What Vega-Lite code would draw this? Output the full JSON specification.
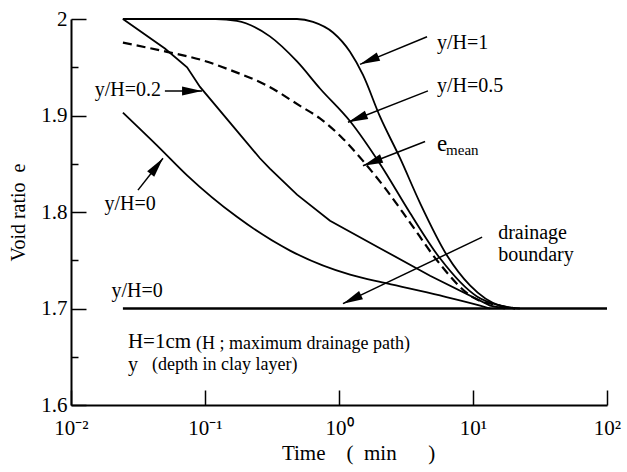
{
  "$schema": "https://vega.github.io/schema/vega-lite/v6.json",
  "width": 536,
  "height": 386,
  "autosize": "none",
  "padding": {"left": 71, "top": 19, "right": 20, "bottom": 67},
  "background": "white",
  "config": {
    "font": "Liberation Serif",
    "view": {"stroke": null},
    "axis": {
      "grid": false,
      "domainColor": "black",
      "tickColor": "black",
      "labelColor": "black",
      "titleColor": "black",
      "labelFont": "Liberation Serif",
      "titleFont": "Liberation Serif",
      "titleFontWeight": "normal"
    },
    "text": {"font": "Liberation Serif", "color": "black"}
  },
  "datasets": {
    "curves": [
      {"series": "y/H=1", "t": 0.0244, "e": 2.0},
      {"series": "y/H=1", "t": 0.486, "e": 2.0},
      {"series": "y/H=1", "t": 0.64, "e": 1.997},
      {"series": "y/H=1", "t": 0.902, "e": 1.986},
      {"series": "y/H=1", "t": 1.208, "e": 1.966},
      {"series": "y/H=1", "t": 1.51, "e": 1.942},
      {"series": "y/H=1", "t": 2.02, "e": 1.899},
      {"series": "y/H=1", "t": 2.85, "e": 1.856},
      {"series": "y/H=1", "t": 4.02, "e": 1.8095},
      {"series": "y/H=1", "t": 6.4, "e": 1.755},
      {"series": "y/H=1", "t": 9.5, "e": 1.724},
      {"series": "y/H=1", "t": 15.9, "e": 1.703},
      {"series": "y/H=1", "t": 22.4, "e": 1.7},
      {"series": "y/H=0.5", "t": 0.0244, "e": 2.0},
      {"series": "y/H=0.5", "t": 0.12, "e": 2.0},
      {"series": "y/H=0.5", "t": 0.173, "e": 1.998},
      {"series": "y/H=0.5", "t": 0.305, "e": 1.982},
      {"series": "y/H=0.5", "t": 0.486, "e": 1.956},
      {"series": "y/H=0.5", "t": 0.721, "e": 1.928},
      {"series": "y/H=0.5", "t": 1.21, "e": 1.894},
      {"series": "y/H=0.5", "t": 2.02, "e": 1.85},
      {"series": "y/H=0.5", "t": 3.39, "e": 1.799},
      {"series": "y/H=0.5", "t": 5.67, "e": 1.752},
      {"series": "y/H=0.5", "t": 10.7, "e": 1.7125},
      {"series": "y/H=0.5", "t": 15.9, "e": 1.703},
      {"series": "y/H=0.5", "t": 20.6, "e": 1.7},
      {"series": "y/H=0.2", "t": 0.0244, "e": 2.0},
      {"series": "y/H=0.2", "t": 0.0502, "e": 1.9694},
      {"series": "y/H=0.2", "t": 0.0735, "e": 1.95},
      {"series": "y/H=0.2", "t": 0.0918, "e": 1.9296},
      {"series": "y/H=0.2", "t": 0.173, "e": 1.884},
      {"series": "y/H=0.2", "t": 0.257, "e": 1.8557},
      {"series": "y/H=0.2", "t": 0.305, "e": 1.845},
      {"series": "y/H=0.2", "t": 0.486, "e": 1.818},
      {"series": "y/H=0.2", "t": 0.857, "e": 1.791},
      {"series": "y/H=0.2", "t": 2.02, "e": 1.7625},
      {"series": "y/H=0.2", "t": 4.78, "e": 1.734},
      {"series": "y/H=0.2", "t": 13.4, "e": 1.703},
      {"series": "y/H=0.2", "t": 17.3, "e": 1.7},
      {"series": "y/H=0", "t": 0.0244, "e": 1.903},
      {"series": "y/H=0", "t": 0.0461, "e": 1.866},
      {"series": "y/H=0", "t": 0.0735, "e": 1.838},
      {"series": "y/H=0", "t": 0.173, "e": 1.795},
      {"series": "y/H=0", "t": 0.431, "e": 1.76},
      {"series": "y/H=0", "t": 1.21, "e": 1.735},
      {"series": "y/H=0", "t": 2.28, "e": 1.726},
      {"series": "y/H=0", "t": 5.67, "e": 1.7135},
      {"series": "y/H=0", "t": 11.3, "e": 1.703},
      {"series": "y/H=0", "t": 13.4, "e": 1.7},
      {"series": "mean", "t": 0.0244, "e": 1.9755},
      {"series": "mean", "t": 0.052, "e": 1.966},
      {"series": "mean", "t": 0.0918, "e": 1.958},
      {"series": "mean", "t": 0.162, "e": 1.946},
      {"series": "mean", "t": 0.29, "e": 1.931},
      {"series": "mean", "t": 0.512, "e": 1.91},
      {"series": "mean", "t": 0.721, "e": 1.897},
      {"series": "mean", "t": 1.07, "e": 1.876},
      {"series": "mean", "t": 1.51, "e": 1.853},
      {"series": "mean", "t": 2.2, "e": 1.825},
      {"series": "mean", "t": 3.39, "e": 1.789},
      {"series": "mean", "t": 5.38, "e": 1.75},
      {"series": "mean", "t": 10.0, "e": 1.7115},
      {"series": "mean", "t": 15.9, "e": 1.703},
      {"series": "mean", "t": 20.6, "e": 1.7}
    ],
    "arrows": [
      {"id": "yH1", "t": 4.54, "e": 1.9816, "t2": 1.435, "e2": 1.953},
      {"id": "yH05", "t": 4.61, "e": 1.9255, "t2": 1.167, "e2": 1.893},
      {"id": "mean", "t": 4.39, "e": 1.873, "t2": 1.51, "e2": 1.848},
      {"id": "drain", "t": 11.7, "e": 1.774, "t2": 1.07, "e2": 1.705},
      {"id": "yH02", "t": 0.0502, "e": 1.9255, "t2": 0.0951, "e2": 1.9255},
      {"id": "yH0", "t": 0.0316, "e": 1.8227, "t2": 0.0486, "e2": 1.8557}
    ]
  },
  "layer": [
    {
      "encoding": {
        "x": {
          "field": "t", "type": "quantitative",
          "scale": {"type": "log", "domain": [0.01, 100], "nice": false},
          "axis": {
            "orient": "bottom",
            "values": [0.01, 0.1, 1, 10, 100],
            "labelExpr": "'10' + ['⁻²','⁻¹','⁰','¹','²'][round(log(datum.value)/LN10)+2]",
            "tickSize": -15, "tickWidth": 1.5, "domainWidth": 2,
            "labelFontSize": 21, "labelPadding": 27, "labelFlush": false,
            "title": "Time\u2003(\u2002min\u2003\u2002)",
            "titleFontSize": 21, "titleX": 287, "titleY": 48, "titleBaseline": "middle", "titleAlign": "center", "titleAnchor": null
          }
        },
        "y": {
          "field": "e", "type": "quantitative",
          "scale": {"domain": [1.6, 2.0], "zero": false, "nice": false},
          "axis": {
            "orient": "left",
            "values": [1.6, 1.7, 1.8, 1.9, 2.0],
            "labelExpr": "datum.value == 2 ? '2' : format(datum.value, '.1f')",
            "tickSize": -15, "tickWidth": 1.5, "domainWidth": 2,
            "labelFontSize": 21, "labelPadding": 19, "labelFlush": false,
            "title": "Void ratio\u2002e",
            "titleFontSize": 20, "titleX": -53, "titleY": 193, "titleAngle": 270, "titleBaseline": "middle", "titleAlign": "center"
          }
        }
      },
      "layer": [
        {
          "data": {"name": "curves"},
          "transform": [{"filter": "datum.series == 'y/H=1' || datum.series == 'y/H=0.5' || datum.series == 'y/H=0'"}],
          "mark": {"type": "line", "color": "black", "strokeWidth": 1.8, "interpolate": "monotone"},
          "encoding": {"detail": {"field": "series"}}
        },
        {
          "data": {"name": "curves"},
          "transform": [{"filter": "datum.series == 'y/H=0.2'"}],
          "mark": {"type": "line", "color": "black", "strokeWidth": 1.8, "interpolate": "linear"},
          "encoding": {}
        },
        {
          "data": {"name": "curves"},
          "transform": [{"filter": "datum.series == 'mean'"}],
          "mark": {"type": "line", "color": "black", "strokeWidth": 2.2, "strokeDash": [9, 5], "interpolate": "monotone"},
          "encoding": {}
        },
        {
          "data": {"name": "arrows"},
          "mark": {"type": "rule", "color": "black", "strokeWidth": 1.5},
          "encoding": {"x2": {"field": "t2"}, "y2": {"field": "e2"}}
        },
        {
          "data": {"name": "arrows"},
          "transform": [{"filter": "datum.id == 'yH1'"}],
          "mark": {"type": "point", "shape": "M0,0L0.45,2L-0.45,2Z", "size": 400, "filled": true, "color": "black", "opacity": 1, "angle": 247.3},
          "encoding": {"x": {"field": "t2", "type": "quantitative"}, "y": {"field": "e2", "type": "quantitative"}}
        },
        {
          "data": {"name": "arrows"},
          "transform": [{"filter": "datum.id == 'yH05'"}],
          "mark": {"type": "point", "shape": "M0,0L0.45,2L-0.45,2Z", "size": 400, "filled": true, "color": "black", "opacity": 1, "angle": 248.2},
          "encoding": {"x": {"field": "t2", "type": "quantitative"}, "y": {"field": "e2", "type": "quantitative"}}
        },
        {
          "data": {"name": "arrows"},
          "transform": [{"filter": "datum.id == 'mean'"}],
          "mark": {"type": "point", "shape": "M0,0L0.45,2L-0.45,2Z", "size": 400, "filled": true, "color": "black", "opacity": 1, "angle": 248.8},
          "encoding": {"x": {"field": "t2", "type": "quantitative"}, "y": {"field": "e2", "type": "quantitative"}}
        },
        {
          "data": {"name": "arrows"},
          "transform": [{"filter": "datum.id == 'drain'"}],
          "mark": {"type": "point", "shape": "M0,0L0.45,2L-0.45,2Z", "size": 400, "filled": true, "color": "black", "opacity": 1, "angle": 244.6},
          "encoding": {"x": {"field": "t2", "type": "quantitative"}, "y": {"field": "e2", "type": "quantitative"}}
        },
        {
          "data": {"name": "arrows"},
          "transform": [{"filter": "datum.id == 'yH02'"}],
          "mark": {"type": "point", "shape": "M0,0L0.45,2L-0.45,2Z", "size": 400, "filled": true, "color": "black", "opacity": 1, "angle": 90},
          "encoding": {"x": {"field": "t2", "type": "quantitative"}, "y": {"field": "e2", "type": "quantitative"}}
        },
        {
          "data": {"name": "arrows"},
          "transform": [{"filter": "datum.id == 'yH0'"}],
          "mark": {"type": "point", "shape": "M0,0L0.45,2L-0.45,2Z", "size": 400, "filled": true, "color": "black", "opacity": 1, "angle": 38},
          "encoding": {"x": {"field": "t2", "type": "quantitative"}, "y": {"field": "e2", "type": "quantitative"}}
        },
        {
          "data": {"values": [
            {"label": "y/H=1", "t": 5.38, "e": 1.9755},
            {"label": "y/H=0.5", "t": 5.38, "e": 1.9306},
            {"label": "drainage", "t": 15.4, "e": 1.778},
            {"label": "boundary", "t": 15.4, "e": 1.755}
          ]},
          "mark": {"type": "text", "align": "left", "baseline": "middle", "fontSize": 20},
          "encoding": {"text": {"field": "label"}}
        },
        {
          "data": {"values": [{"label": "y/H=0.2", "t": 0.047, "e": 1.9265}]},
          "mark": {"type": "text", "align": "right", "baseline": "middle", "fontSize": 20},
          "encoding": {"text": {"field": "label"}}
        },
        {
          "data": {"values": [
            {"label": "y/H=0", "t": 0.0276, "e": 1.808},
            {"label": "y/H=0", "t": 0.0311, "e": 1.718}
          ]},
          "mark": {"type": "text", "align": "center", "baseline": "middle", "fontSize": 20},
          "encoding": {"text": {"field": "label"}}
        },
        {
          "data": {"values": [{"label": "e", "t": 5.38, "e": 1.863}]},
          "mark": {"type": "text", "align": "left", "baseline": "alphabetic", "fontSize": 23},
          "encoding": {"text": {"field": "label"}}
        },
        {
          "data": {"values": [{"label": "mean", "t": 6.3, "e": 1.8588}]},
          "mark": {"type": "text", "align": "left", "baseline": "alphabetic", "fontSize": 15},
          "encoding": {"text": {"field": "label"}}
        },
        {
          "data": {"values": [{"label": "H=1cm", "t": 0.0266, "e": 1.665}]},
          "mark": {"type": "text", "align": "left", "baseline": "middle", "fontSize": 21},
          "encoding": {"text": {"field": "label"}}
        },
        {
          "data": {"values": [
            {"label": "(H ; maximum drainage path)", "t": 0.0857, "e": 1.663},
            {"label": "(depth in clay layer)", "t": 0.0402, "e": 1.641}
          ]},
          "mark": {"type": "text", "align": "left", "baseline": "middle", "fontSize": 18},
          "encoding": {"text": {"field": "label"}}
        },
        {
          "data": {"values": [{"label": "y", "t": 0.0266, "e": 1.641}]},
          "mark": {"type": "text", "align": "left", "baseline": "middle", "fontSize": 20},
          "encoding": {"text": {"field": "label"}}
        }
      ]
    },
    {
      "data": {"values": [{"t": 0.0244, "e": 1.7}, {"t": 100, "e": 1.7}]},
      "mark": {"type": "line", "color": "black", "strokeWidth": 2.6},
      "encoding": {
        "x": {"field": "t", "type": "quantitative", "scale": {"type": "log", "domain": [0.01, 100], "nice": false}},
        "y": {
          "field": "e", "type": "quantitative",
          "scale": {"domain": [1.6, 2.0], "zero": false, "nice": false},
          "axis": {"orient": "left", "values": [1.65, 1.75, 1.85, 1.95], "labels": false, "domain": false, "tickSize": -7, "tickWidth": 1.5, "title": null}
        }
      }
    }
  ],
  "resolve": {"axis": {"y": "independent"}}
}
